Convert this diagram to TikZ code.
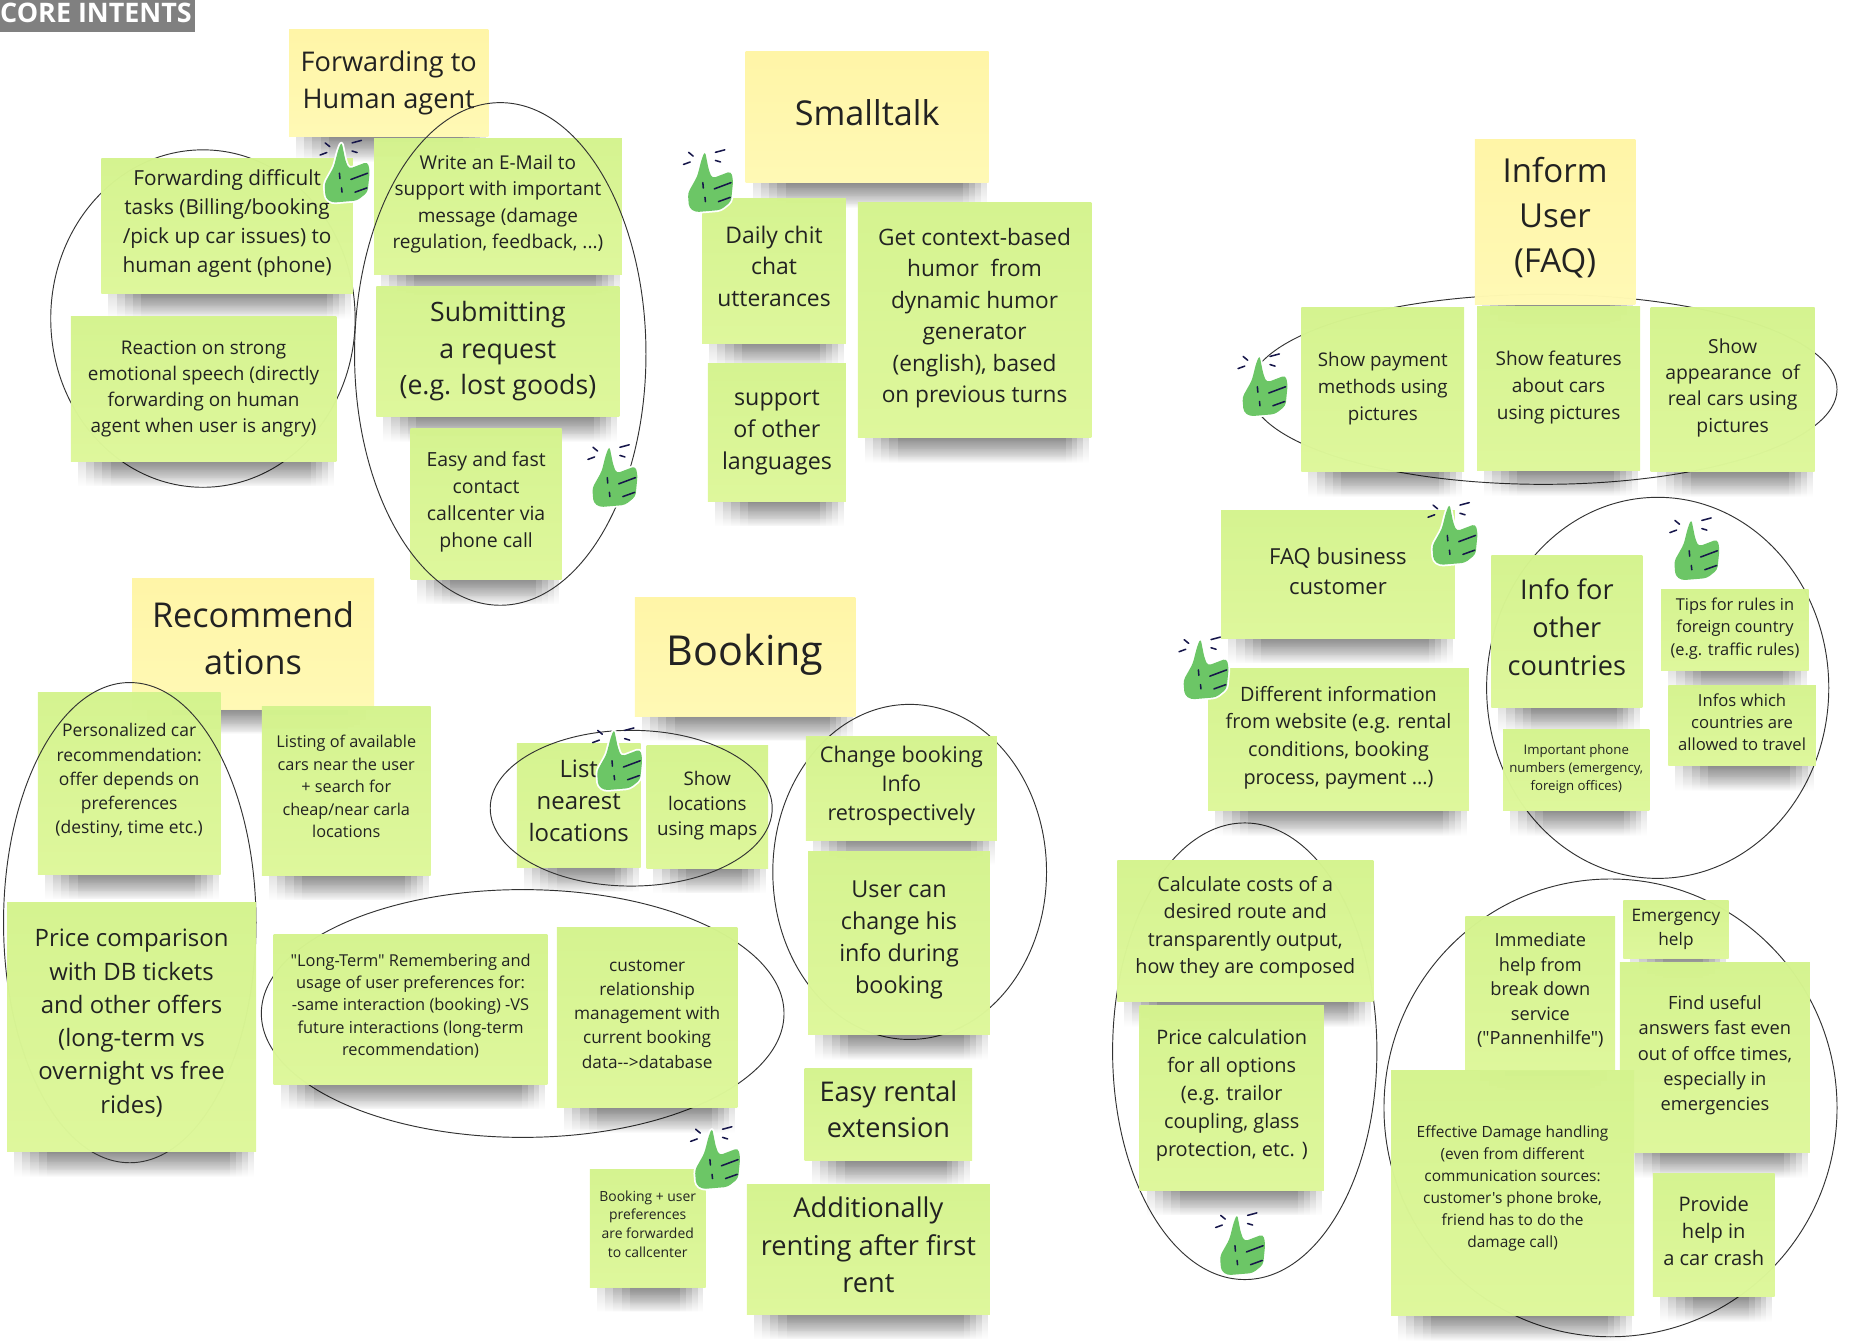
\documentclass[tikz,border=0pt]{standalone}
\usepackage{fontspec}
\setmainfont{Open Sans}[Ligatures=TeXOff]
\usetikzlibrary{shapes.geometric,fadings}
\definecolor{notegreen}{HTML}{D4F38E}
\definecolor{notegreenb}{HTML}{DDF79A}
\definecolor{noteyellow}{HTML}{FFF5A6}
\definecolor{noteyellowb}{HTML}{FFF9B4}
\definecolor{thumbgreen}{HTML}{6CC666}
\definecolor{thumbdark}{HTML}{16164A}
\definecolor{notetext}{HTML}{222222}
\newcommand{\fs}[2]{\fontsize{#1}{#2}\selectfont}
\newcommand{\lift}[1]{\\[\dimexpr#1*2-\baselineskip\relax]}
\pgfdeclarelayer{back}
\pgfdeclarelayer{shade}
\pgfsetlayers{back,shade,main}
\tikzset{
    note/.style={rectangle, inner sep=0pt, align=center, text=notetext, fill opacity=0.985, text opacity=1},
    greennote/.style={note, top color=notegreen, bottom color=notegreenb},
    yellownote/.style={note, top color=noteyellow, bottom color=noteyellowb},
    oval/.style={ellipse, draw=black!80, line width=0.8pt, inner sep=0pt},
    thumb/.pic={
        \draw[white, line width=3pt, fill=thumbgreen, rounded corners=3pt, line join=round]
            (-2.5,-25)--(0.7,-9)--(3.6,-1.8)--(19.6,-7.9)--(21.4,0)--(19.6,17.9)--(10.7,25)
            --(-10.7,26.8)--(-16,23)--(-17,10.7)--(-9,-3.6)--(-5.4,-17.9)--cycle;
        \fill[thumbgreen, rounded corners=3pt]
            (-2.5,-25)--(0.7,-9)--(3.6,-1.8)--(19.6,-7.9)--(21.4,0)--(19.6,17.9)--(10.7,25)
            --(-10.7,26.8)--(-16,23)--(-17,10.7)--(-9,-3.6)--(-5.4,-17.9)--cycle;
        \draw[thumbdark, line width=1.3pt, line cap=round]
            (-16.4,-23.9)--(-12.5,-20.7) (-20.7,-13.6)--(-15,-15.7)
            (6.4,-23.9)--(14.3,-26) (6.4,-17)--(10.7,-15.7)
            (5.4,7.1)--(19.6,1.8) (8.9,17.9)--(18.9,14.3)
            (-4.3,1.8)--(-3.9,6.4) (-2.5,14.3)--(-2.1,17.9);
    }
}
\begin{document}
\begin{tikzpicture}[x=1pt, y=-1pt]
    \useasboundingbox (0,0) rectangle (1568,1136.6);
    \begin{pgfonlayer}{back}
    \node[oval, minimum width=258pt, minimum height=286pt] (ovalhuman) at (172,270) {};
    \node[oval, minimum width=498pt, minimum height=161pt] (ovalfaq) at (1308,330) {};
    \node[oval, minimum width=290pt, minimum height=323pt] (ovalcountry) at (1405,583) {};
    \node[oval, minimum width=224pt, minimum height=387pt] (ovalcost) at (1055,891) {};
    \node[oval, minimum width=384pt, minimum height=388pt] (ovalhelp) at (1365,939) {};
    \node[oval, minimum width=443pt, minimum height=210pt] (ovalmemory) at (443,859) {};
    \node[oval, minimum width=232pt, minimum height=284pt] (ovalchange) at (771,739) {};
    \end{pgfonlayer}

    \node[rectangle, fill=black!50, minimum width=165pt, minimum height=27pt, inner sep=0pt] (coretag) at (82.5,13.5) {};
    \node[anchor=west, inner sep=0pt, text=white, font=\bfseries\fs{22.8}{24}] (coretitle) at (0,11) {CORE INTENTS};

    % yellow headers
    \node[yellownote, minimum width=169pt, minimum height=91pt, font=\fs{23}{31}] (hhuman) at (329.5,70.5) {Forwarding to\\Human agent};
    \node[yellownote, minimum width=206pt, minimum height=111pt, font=\fs{29}{38}] (hsmall) at (735,99.5) {Smalltalk\lift{4pt}};
    \node[yellownote, minimum width=136pt, minimum height=140pt, font=\fs{28}{38}] (hinform) at (1318,188) {Inform\\User\\(FAQ)\lift{6pt}};
    \node[yellownote, minimum width=205pt, minimum height=111pt, font=\fs{29}{40}] (hrecommend) at (214.5,545.5) {Recommend\\ations\lift{5pt}};
    \node[yellownote, minimum width=187pt, minimum height=101pt, font=\fs{35}{44}] (hbooking) at (631.5,556.5) {Booking\lift{6pt}};

    % human agent
    \node[greennote, minimum width=213pt, minimum height=115pt, font=\fs{17.6}{24.5}] (fwdhard) at (192.5,191.5) {Forwarding difficult\\tasks (Billing/booking\\/pick up car issues) to\\human agent (phone)\lift{4pt}};
    \node[greennote, minimum width=225pt, minimum height=123pt, font=\fs{16}{22}] (fwdangry) at (172.5,329.5) {Reaction on strong\\emotional speech (directly\\forwarding on human\\agent when user is angry)};
    \node[greennote, minimum width=210pt, minimum height=116pt, font=\fs{16.1}{22.4}] (fwdmail) at (422,175) {Write an E-Mail to\\support with important\\message (damage\\regulation, feedback, ...)\lift{4pt}};
    \node[greennote, minimum width=206pt, minimum height=110pt, font=\fs{22.6}{31}] (fwdreq) at (422,298) {Submitting\\a request\\(e.g. lost goods)\lift{3pt}};
    \node[greennote, minimum width=128pt, minimum height=128pt, font=\fs{16.5}{22.7}] (fwdcall) at (412,427) {Easy and fast\\contact\\callcenter via\\phone call\lift{3.5pt}};
    \node[oval, minimum width=247pt, minimum height=426pt] (ovalrequest) at (424,300) {};

    % smalltalk
    \node[greennote, minimum width=122pt, minimum height=123pt, font=\fs{19.4}{26.5}] (chit) at (656,229.5) {Daily chit\\chat\\utterances\lift{4pt}};
    \node[greennote, minimum width=117pt, minimum height=117pt, font=\fs{19.7}{27}] (lang) at (658.5,366.5) {support\\of other\\languages};
    \node[greennote, minimum width=198pt, minimum height=199pt, font=\fs{19.2}{26.7}] (humor) at (826,271.5) {Get context-based\\humor\ \ from\\dynamic humor\\generator\\(english), based\\on previous turns\lift{4pt}};

    % inform user
    \node[greennote, minimum width=138pt, minimum height=139pt, font=\fs{15.9}{22.5}] (faqpay) at (1172,330.5) {Show payment\\methods using\\pictures\lift{3pt}};
    \node[greennote, minimum width=138pt, minimum height=139pt, font=\fs{16.1}{22.5}] (faqfeat) at (1321,329.5) {Show features\\about cars\\using pictures\lift{3pt}};
    \node[greennote, minimum width=139pt, minimum height=139pt, font=\fs{16.4}{22.3}] (faqlook) at (1468.5,330.5) {Show\\appearance\ \ of\\real cars using\\pictures\lift{4pt}};
    \node[greennote, minimum width=198pt, minimum height=108pt, font=\fs{18.7}{26}] (faqbiz) at (1134,487) {FAQ business\\customer\lift{3pt}};
    \node[greennote, minimum width=221pt, minimum height=120pt, font=\fs{16.8}{23.4}] (faqweb) at (1134.5,627) {Different information\\from website (e.g. rental\\conditions, booking\\process, payment ...)\lift{4pt}};
    \node[greennote, minimum width=128pt, minimum height=129pt, font=\fs{23}{32}] (cntinfo) at (1328,535.5) {Info for\\other\\countries\lift{4pt}};
    \node[greennote, minimum width=125pt, minimum height=68pt, font=\fs{13.9}{19}] (cnttips) at (1470.5,534) {Tips for rules in\\foreign country\\(e.g. traffic rules)\lift{3pt}};
    \node[greennote, minimum width=125pt, minimum height=68pt, font=\fs{14.1}{19}] (cntallow) at (1476.5,615) {Infos which\\countries are\\allowed to travel\lift{3pt}};
    \node[greennote, minimum width=124pt, minimum height=69pt, font=\fs{11.2}{15}] (cntphone) at (1336,652.5) {Important phone\\numbers (emergency,\\foreign offices)\lift{2pt}};
    \node[greennote, minimum width=217pt, minimum height=120pt, font=\fs{16.7}{23}] (costroute) at (1055.5,789) {Calculate costs of a\\desired route and\\transparently output,\\how they are composed\lift{5pt}};
    \node[greennote, minimum width=156pt, minimum height=157pt, font=\fs{16.9}{23.7}] (costopt) at (1044,930.5) {Price calculation\\for all options\\(e.g. trailor\\coupling, glass\\protection, etc. )\lift{4pt}};
    \node[greennote, minimum width=127pt, minimum height=130pt, font=\fs{15.4}{20.7}] (helpbreak) at (1305.5,842) {Immediate\\help from\\break down\\service\\("Pannenhilfe")\lift{4pt}};
    \node[greennote, minimum width=89pt, minimum height=49pt, font=\fs{14.6}{20}] (helpemer) at (1420.5,787.5) {Emergency\\help};
    \node[greennote, minimum width=161pt, minimum height=161pt, font=\fs{15.5}{21.5}] (helpfast) at (1453.5,896.5) {Find useful\\answers fast even\\out of offce times,\\especially in\\emergencies\lift{4pt}};
    \node[greennote, minimum width=206pt, minimum height=208pt, font=\fs{13.1}{18.7}] (helpdamage) at (1282,1011) {Effective Damage handling\\(even from different\\communication sources:\\customer's phone broke,\\friend has to do the\\damage call)\lift{5.5pt}};
    \node[greennote, minimum width=103pt, minimum height=104pt, font=\fs{17}{23}] (helpcrash) at (1452.5,1047) {Provide\\help in\\a car crash\lift{4pt}};

    % recommendations
    \node[greennote, minimum width=155pt, minimum height=154pt, font=\fs{14.8}{20.5}] (recperson) at (109.5,664) {Personalized car\\recommendation:\\offer depends on\\preferences\\(destiny, time etc.)\lift{4pt}};
    \node[greennote, minimum width=143pt, minimum height=143pt, font=\fs{13.8}{19}] (reclist) at (293.5,670.5) {Listing of available\\cars near the user\\+ search for\\cheap/near carla\\locations\lift{4pt}};
    \node[oval, minimum width=214pt, minimum height=407pt] (ovalrecommend) at (110,782) {};
    \node[greennote, minimum width=211pt, minimum height=211pt, font=\fs{20.3}{28.2}] (recprice) at (111.5,870.5) {Price comparison\\with DB tickets\\and other offers\\(long-term vs\\overnight vs free\\rides)\lift{5pt}};

    % booking
    \node[greennote, minimum width=232pt, minimum height=127pt, font=\fs{13.9}{19}] (bookmem) at (348,855.5) {"Long-Term" Remembering and\\usage of user preferences for:\\-same interaction (booking) -VS\\future interactions (long-term\\recommendation)\lift{4pt}};
    \node[greennote, minimum width=153pt, minimum height=153pt, font=\fs{14.6}{20.5}] (bookcrm) at (548.5,862.5) {customer\\relationship\\management with\\current booking\\data-->database\lift{3pt}};
    \node[greennote, minimum width=105pt, minimum height=105pt, font=\fs{20.3}{27}] (booklist) at (490.5,682.5) {List\\nearest\\locations\lift{4pt}};
    \node[greennote, minimum width=103pt, minimum height=104pt, font=\fs{15.9}{21.5}] (bookmap) at (599.5,684) {Show\\locations\\using maps\lift{3pt}};
    \node[oval, minimum width=239pt, minimum height=132pt] (ovallocation) at (535,685) {};
    \node[greennote, minimum width=162pt, minimum height=88pt, font=\fs{18.3}{24.5}] (bookinfo) at (764,668) {Change booking\\Info\\retrospectively\lift{4pt}};
    \node[greennote, minimum width=154pt, minimum height=155pt, font=\fs{19.8}{27}] (bookuser) at (762,799.5) {User can\\change his\\info during\\booking\lift{5pt}};
    \node[greennote, minimum width=142pt, minimum height=78pt, font=\fs{23}{31}] (bookext) at (753,945) {Easy rental\\extension\lift{5pt}};
    \node[greennote, minimum width=206pt, minimum height=110pt, font=\fs{23.1}{31.5}] (bookmore) at (736,1059) {Additionally\\renting after first\\rent\lift{4pt}};
    \node[greennote, minimum width=98pt, minimum height=100pt, font=\fs{11.8}{16}] (bookcall) at (549,1041) {Booking + user\\preferences\\are forwarded\\to callcenter\lift{3.5pt}};

    % soft shadows below the notes
    \begin{pgfonlayer}{shade}
    \foreach \n in {hhuman,hsmall,hinform,hrecommend,hbooking,fwdhard,fwdangry,fwdmail,fwdreq,fwdcall,chit,lang,humor,
        faqpay,faqfeat,faqlook,faqbiz,faqweb,cntinfo,cnttips,cntallow,cntphone,costroute,costopt,helpbreak,helpemer,
        helpfast,helpdamage,helpcrash,recperson,reclist,recprice,bookmem,bookcrm,booklist,bookmap,bookinfo,bookuser,
        bookext,bookmore,bookcall}
        \foreach \i in {0,...,4}
            \fill[black, fill opacity=0.11, path fading=south]
                ([xshift=6pt+7pt*\i]\n.south west) rectangle ([xshift=-2pt-5pt*\i,yshift=-21pt]\n.south east);
    \end{pgfonlayer}

    \path (292,145) pic (thumba) {thumb};
    \path (519,403) pic (thumbb) {thumb};
    \path (600,153) pic (thumbc) {thumb};
    \path (1070,326) pic (thumbd) {thumb};
    \path (1231,452) pic (thumbe) {thumb};
    \path (1020,566) pic (thumbf) {thumb};
    \path (1436,465) pic (thumbg) {thumb};
    \path (523,643) pic (thumbh) {thumb};
    \path (606,981) pic (thumbi) {thumb};
    \path (1051,1054) pic (thumbj) {thumb};
\end{tikzpicture}
\end{document}
